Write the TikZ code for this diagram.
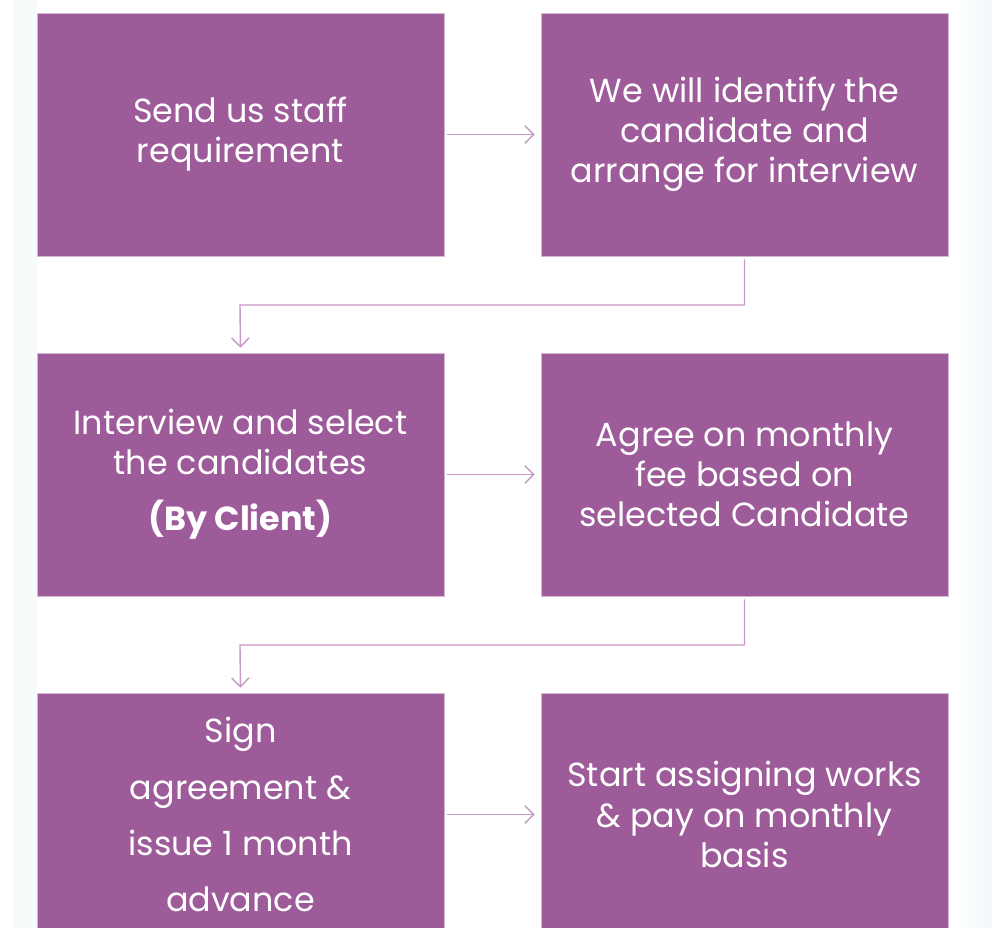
\documentclass[tikz,border=0pt]{standalone}
\usepackage{fontspec}
\setmainfont{Poppins}
\usepackage{tikz}
\usetikzlibrary{arrows.meta}
\usetikzlibrary{calc, positioning}
\definecolor{boxpurple}{RGB}{157,92,153}
\definecolor{linepurple}{RGB}{200,152,198}
\definecolor{paleteal}{RGB}{236,246,248}
\tikzset{flow/.style={draw=linepurple, line width=0.8pt, -{Straight Barb[length=5pt, width=10pt]}}}
\tikzset{bottomline/.style={font=\fontsize{19}{31.9}\selectfont}}

\begin{document}
\begin{tikzpicture}[x=0.02cm, y=-0.02cm]
	% Default action for each node
	\tikzstyle{every node}=[fill=boxpurple, draw=boxpurple!45, text=white, align=center, inner sep=0pt, minimum width=8.14cm, minimum height=4.86cm, font=\fontsize{19}{22.8}\selectfont];

	\clip (0,0) rectangle (992,928);

	% BACKGROUND
	\fill[white] (0,0) rectangle (992,928);
	\fill[paleteal!40] (13,0) rectangle (37,928);
	\shade[left color=white, right color=paleteal!70] (955,0) rectangle (992,928);

	% TOP ROW
	\node (send) at (240.5,134.5) {Send us staff\\requirement};
	\node (identify) at (744.5,134.5) {We will identify the\\candidate and\\arrange for interview};

	% MIDDLE ROW
	\node (interview) at (240.5,474.5) {Interview and select\\the candidates\\[9pt]\textbf{(By Client)}};
	\node (agree) at (744.5,474.5) {Agree on monthly\\fee based on\\selected Candidate};

	% BOTTOM ROW
	\node[bottomline] (sign) at (240.5,814.5) {Sign\\agreement \&\\issue 1 month\\advance};
	\node (start) at (744.5,814.5) {Start assigning works\\\& pay on monthly\\basis};

	% turning points
	\coordinate (turn1) at (240,305);
	\coordinate (turn2) at (240,645);

	% Horizontals
	\draw[flow, shorten <=0.06cm, shorten >=0.12cm] (send) -- (identify);
	\draw[flow, shorten <=0.06cm, shorten >=0.12cm] (interview) -- (agree);
	\draw[flow, shorten <=0.06cm, shorten >=0.12cm] (sign) -- (start);

	% Elbows
	\draw[flow, shorten <=0.06cm, shorten >=0.1cm] (identify.south) |- (turn1) -- (interview.north);
	\draw[flow, shorten <=0.06cm, shorten >=0.1cm] (agree.south) |- (turn2) -- (sign.north);
\end{tikzpicture}
\end{document}
